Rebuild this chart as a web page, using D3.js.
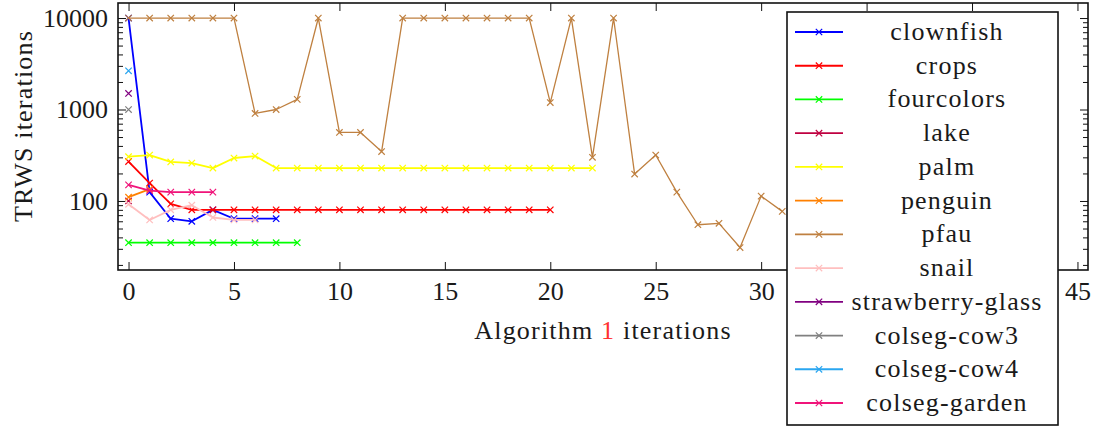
<!DOCTYPE html>
<html><head><meta charset="utf-8">
<script src="https://cdn.jsdelivr.net/npm/d3@7"></script>
<style>
html,body{margin:0;padding:0;background:#fff;}
svg{display:block;}
svg text{font-family:"Liberation Serif","DejaVu Serif",serif !important;fill:#1a1a1a;}
</style></head>
<body>
<svg id="chart" width="1095" height="429"></svg>
<script>
// ---- data (x = Algorithm 1 iteration index, starting at 0) ----
const seriesNames = ["clownfish","crops","fourcolors","lake","palm","penguin","pfau","snail","strawberry-glass","colseg-cow3","colseg-cow4","colseg-garden"];
const clownfish = [10000,125,64,60,80,64,64,64];
const crops = [270,157,93,80,80,80,80,80,80,80,80,80,80,80,80,80,80,80,80,80,80];
const fourcolors = [35,35,35,35,35,35,35,35,35];
const lake = [100];
const palm = [305,318,267,260,229,295,310,229,229,229,229,229,229,229,229,229,229,229,229,229,229,229,229];
const penguin = [110,135];
const pfau = [10000,10000,10000,10000,10000,10000,905,1000,1290,10000,561,561,347,10000,10000,10000,10000,10000,10000,10000,1190,10000,300,10000,197,318,125,55,57,31,113,77];
const snail = [92,62,80,90,66,62,62];
const strawberryGlass = [1500];
const colsegCow3 = [1000];
const colsegCow4 = [2650];
const colsegGarden = [150,130,125,125,125];
const seriesValues = [clownfish,crops,fourcolors,lake,palm,penguin,pfau,snail,strawberryGlass,colsegCow3,colsegCow4,colsegGarden];
const seriesColors = ["#0000ff","#ff0000","#00ff00","#bf0040","#ffff00","#ff8000","#bf8040","#ffbfbf","#800080","#808080","#2aa6f0","#f0147a"];
const xTicks = [0,5,10,15,20,25,30,35,40,45];
const xTickLabelsHidden = [35,40]; // covered by the legend in the reference
const yTicks = [100,1000,10000];
const yMinorTicks = [20,30,40,50,60,70,80,90,200,300,400,500,600,700,800,900,2000,3000,4000,5000,6000,7000,8000,9000];
const xTitle = ["Algorithm ","1"," iterations"];
const yTitle = "TRWS iterations";

// ---- layout ----
const L = 118, R = 1088, T = 3, B = 270;
const FONT = "'Liberation Serif','DejaVu Serif',serif";
const svg = d3.select("#chart");
const x = d3.scaleLinear().domain([-0.5, 45.5]).range([L, R]);
const y = d3.scaleLog().domain([17.6, 14600]).range([B, T]);

svg.append("defs").append("clipPath").attr("id","clip")
  .append("rect").attr("x",L).attr("y",T).attr("width",R-L).attr("height",B-T);

function styleAxis(g){
  g.attr("font-family",FONT);
  g.select(".domain").remove();
  g.selectAll(".tick line").attr("stroke","#111").attr("stroke-width",1);
}
svg.append("g").attr("transform",`translate(${L},0)`)
  .call(d3.axisLeft(y).tickValues(yTicks).tickSize(-8).tickPadding(10).tickFormat(d3.format("d")))
  .call(styleAxis)
  .call(g=>g.selectAll("text").attr("font-size",26).attr("fill","#1a1a1a"));
svg.append("g").attr("transform",`translate(${L},0)`)
  .call(d3.axisLeft(y).tickValues(yMinorTicks).tickSize(-5).tickFormat(""))
  .call(styleAxis);
svg.append("g").attr("transform",`translate(${R},0)`)
  .call(d3.axisRight(y).tickValues(yTicks).tickSize(-8).tickFormat(""))
  .call(styleAxis);
svg.append("g").attr("transform",`translate(${R},0)`)
  .call(d3.axisRight(y).tickValues(yMinorTicks).tickSize(-5).tickFormat(""))
  .call(styleAxis);
svg.append("g").attr("transform",`translate(0,${B})`)
  .call(d3.axisBottom(x).tickValues(xTicks).tickSize(-8).tickPadding(12)
        .tickFormat(d=>xTickLabelsHidden.includes(d)?"":String(d)))
  .call(styleAxis)
  .call(g=>g.selectAll("text").attr("font-size",26).attr("fill","#1a1a1a"));
svg.append("g").attr("transform",`translate(0,${T})`)
  .call(d3.axisTop(x).tickValues(xTicks).tickSize(-8).tickFormat(""))
  .call(styleAxis);

// series
const line = d3.line().x((d,i)=>x(i)).y(d=>y(d));
const marker = "M-3.2,-3.2L3.2,3.2M-3.2,3.2L3.2,-3.2";
const plot = svg.append("g").attr("clip-path","url(#clip)");
seriesValues.forEach((vals,k)=>{
  const g = plot.append("g");
  g.append("path").datum(vals).attr("d",line).attr("fill","none")
    .attr("stroke",seriesColors[k]).attr("stroke-width",k===6?1.3:1.8).attr("stroke-linejoin","round");
  g.selectAll("path.m").data(vals).join("path").attr("class","m")
    .attr("transform",(d,i)=>`translate(${x(i)},${y(d)})`).attr("d",marker)
    .attr("stroke",seriesColors[k]).attr("stroke-width",1.2).attr("fill","none");
});

// frame
svg.append("rect").attr("x",L).attr("y",T).attr("width",R-L).attr("height",B-T)
  .attr("fill","none").attr("stroke","#111").attr("stroke-width",1.6);

// axis titles
const xt = svg.append("text").attr("x",(L+R)/2).attr("y",339).attr("text-anchor","middle")
  .attr("font-family",FONT).attr("font-size",26).attr("letter-spacing",1.2);
xt.selectAll("tspan").data(xTitle).join("tspan").text(d=>d).attr("fill",(d,i)=>i===1?"#ff3030":"#1a1a1a");
svg.append("text").attr("transform","translate(32,126) rotate(-90)").attr("text-anchor","middle")
  .attr("font-family",FONT).attr("font-size",26).attr("letter-spacing",1.2).text(yTitle);

// legend
const lg = svg.append("g").attr("font-family",FONT);
lg.append("rect").attr("x",787).attr("y",12).attr("width",271).attr("height",413)
  .attr("fill","#fff").attr("stroke","#111").attr("stroke-width",1.6);
const ly = d3.scalePoint().domain(seriesNames).range([32,403]);
seriesNames.forEach((name,k)=>{
  const yy = ly(name);
  lg.append("line").attr("x1",795).attr("x2",843).attr("y1",yy).attr("y2",yy)
    .attr("stroke",seriesColors[k]).attr("stroke-width",1.8);
  lg.append("path").attr("transform",`translate(819,${yy})`).attr("d",marker)
    .attr("stroke",seriesColors[k]).attr("stroke-width",1.2).attr("fill","none");
  lg.append("text").attr("x",947).attr("y",yy+8).attr("text-anchor","middle")
    .attr("font-size",26).attr("letter-spacing",1.2).text(name);
});
</script>
</body></html>
